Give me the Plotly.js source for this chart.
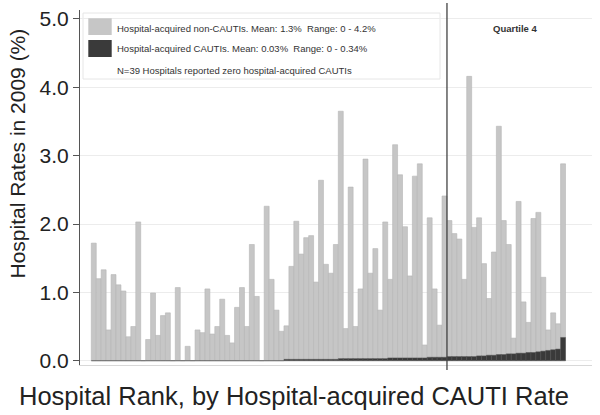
<!DOCTYPE html>
<html>
<head>
<meta charset="utf-8">
<script src="https://cdn.plot.ly/plotly-3.0.1.min.js"></script>
<style>html,body{margin:0;padding:0;background:#fff;}#chart{width:600px;height:415px;}</style>
</head>
<body>
<div id="chart"></div>
<script>
// Hospital rank (1 = lowest CAUTI rate)
const ranks = Array.from({length: 96}, (_, i) => i + 1);

// Hospital-acquired non-CAUTI rates (%)
const nonCautiRates = [
  1.72, 1.20, 1.33, 0.45, 1.26, 1.11, 1.02, 0.35, 0.50, 2.03,
  0.00, 0.31, 0.99, 0.37, 0.66, 0.70, 0.00, 1.07, 0.00, 0.21,
  0.00, 0.45, 0.41, 1.05, 0.39, 0.50, 0.90, 0.37, 0.26, 0.78,
  1.07, 0.50, 1.70, 0.94, 0.00, 2.26, 1.19, 0.74, 0.43, 0.51,
  1.38, 2.04, 1.56, 1.80, 1.83, 1.15, 2.64, 1.41, 1.28, 1.70,
  3.65, 0.47, 2.54, 0.50, 1.05, 2.95, 1.28, 1.64, 0.74, 2.03,
  1.19, 3.16, 2.72, 1.96, 1.24, 2.70, 2.88, 0.23, 2.09, 1.05,
  0.52, 2.41, 2.05, 1.86, 1.78, 1.19, 4.16, 1.95, 2.09, 1.42,
  0.91, 1.59, 3.43, 2.05, 1.70, 0.33, 2.33, 0.86, 0.56, 2.08,
  2.17, 1.22, 0.45, 0.70, 0.54, 2.88
];

// Hospital-acquired CAUTI rates (%)
const cautiRates = [
  0,0,0,0,0,0,0,0,0,0,
  0,0,0,0,0,0,0,0,0,0,
  0,0,0,0,0,0,0,0,0,0,
  0,0,0,0,0,0,0,0,0,0.02,
  0.02,0.02,0.02,0.02,0.02,0.02,0.02,0.02,0.02,0.02,
  0.03,0.03,0.03,0.03,0.03,0.03,0.03,0.03,0.03,0.03,
  0.04,0.04,0.04,0.04,0.04,0.04,0.04,0.04,0.05,0.05,
  0.05,0.05,0.06,0.06,0.06,0.06,0.06,0.06,0.07,0.07,
  0.08,0.08,0.09,0.09,0.10,0.10,0.11,0.11,0.12,0.12,
  0.13,0.14,0.15,0.16,0.17,0.34
];

const yTickVals = [0, 1, 2, 3, 4, 5];
const yTickText = ['0.0', '1.0', '2.0', '3.0', '4.0', '5.0'];

const legendLines = [
  'Hospital-acquired non-CAUTIs. Mean: 1.3%  Range: 0 - 4.2%',
  'Hospital-acquired CAUTIs. Mean: 0.03%  Range: 0 - 0.34%',
  'N=39 Hospitals reported zero hospital-acquired CAUTIs'
];
const quartileBoundary = 72.5;

const FONT = 'Liberation Sans, Arial, Helvetica, sans-serif';

const traces = [
  {
    type: 'bar', x: ranks, y: nonCautiRates, name: 'Hospital-acquired non-CAUTIs',
    marker: {color: '#c6c6c6', line: {color: '#b6b6b6', width: 0.6}},
    hoverinfo: 'x+y', showlegend: false
  },
  {
    type: 'bar', x: ranks, y: cautiRates, name: 'Hospital-acquired CAUTIs',
    marker: {color: '#3a3a3a', line: {color: '#555555', width: 0.5}},
    hoverinfo: 'x+y', showlegend: false
  }
];

const L = 80, R = 8, T = 10, B = 50, W = 600, H = 415;
const pw = W - L - R, ph = H - T - B;
const px = v => (v - L) / pw;
const py = v => (H - B - v) / ph;

const layout = {
  width: W, height: H,
  margin: {l: L, r: R, t: T, b: B, pad: 0},
  paper_bgcolor: '#ffffff', plot_bgcolor: '#ffffff',
  font: {family: FONT, color: '#222'},
  barmode: 'overlay', bargap: 0,
  showlegend: false,
  xaxis: {
    range: [-1.79, 101.86], showgrid: false, zeroline: false,
    showticklabels: false, ticks: '', showline: true, linecolor: '#d8d8d8', linewidth: 1
  },
  yaxis: {
    range: [-0.063, 5.131], tickvals: yTickVals, ticktext: yTickText,
    tickfont: {size: 21, family: FONT, color: '#222'},
    ticks: 'outside', ticklen: 6, tickcolor: '#555', tickwidth: 1,
    showline: true, linecolor: '#555', linewidth: 1,
    showgrid: true, gridcolor: '#ececec', gridwidth: 1, zeroline: false
  },
  shapes: [
    {type: 'rect', xref: 'paper', yref: 'paper', x0: px(83), x1: px(440), y0: py(79), y1: py(13),
     line: {color: '#e6e6e6', width: 1}, fillcolor: '#ffffff', layer: 'between'},
    {type: 'rect', xref: 'paper', yref: 'paper', x0: px(88.3), x1: px(111.7), y0: py(35), y1: py(18.3),
     line: {width: 0}, fillcolor: '#c6c6c6'},
    {type: 'rect', xref: 'paper', yref: 'paper', x0: px(88.3), x1: px(111.7), y0: py(57), y1: py(40),
     line: {width: 0}, fillcolor: '#3a3a3a'},
    {type: 'line', xref: 'x', yref: 'paper', x0: quartileBoundary, x1: quartileBoundary, y0: py(370), y1: py(3),
     line: {color: '#444', width: 1.3}}
  ],
  annotations: [
    {text: 'Hospital Rates in 2009 (%)', xref: 'paper', yref: 'paper', x: px(17), y: py(153.5),
     textangle: -90, showarrow: false, xanchor: 'center', yanchor: 'middle',
     font: {size: 21, family: FONT, color: '#222'}},
    {text: 'Hospital Rank, by Hospital-acquired CAUTI Rate', xref: 'paper', yref: 'paper', x: px(294), y: py(396),
     showarrow: false, xanchor: 'center', yanchor: 'middle',
     font: {size: 25.5, family: FONT, color: '#222'}},
    {text: legendLines[0], xref: 'paper', yref: 'paper', x: px(115), y: py(28),
     showarrow: false, xanchor: 'left', yanchor: 'middle', font: {size: 9.5, family: FONT, color: '#333'}},
    {text: legendLines[1], xref: 'paper', yref: 'paper', x: px(115), y: py(49),
     showarrow: false, xanchor: 'left', yanchor: 'middle', font: {size: 9.5, family: FONT, color: '#333'}},
    {text: legendLines[2], xref: 'paper', yref: 'paper', x: px(115), y: py(70),
     showarrow: false, xanchor: 'left', yanchor: 'middle', font: {size: 9.5, family: FONT, color: '#333'}},
    {text: '<b>Quartile 4</b>', xref: 'paper', yref: 'paper', x: px(515), y: py(28),
     showarrow: false, xanchor: 'center', yanchor: 'middle', font: {size: 9.5, family: FONT, color: '#333'}}
  ]
};

Plotly.newPlot('chart', traces, layout, {displayModeBar: false, staticPlot: true});
</script>
</body>
</html>
